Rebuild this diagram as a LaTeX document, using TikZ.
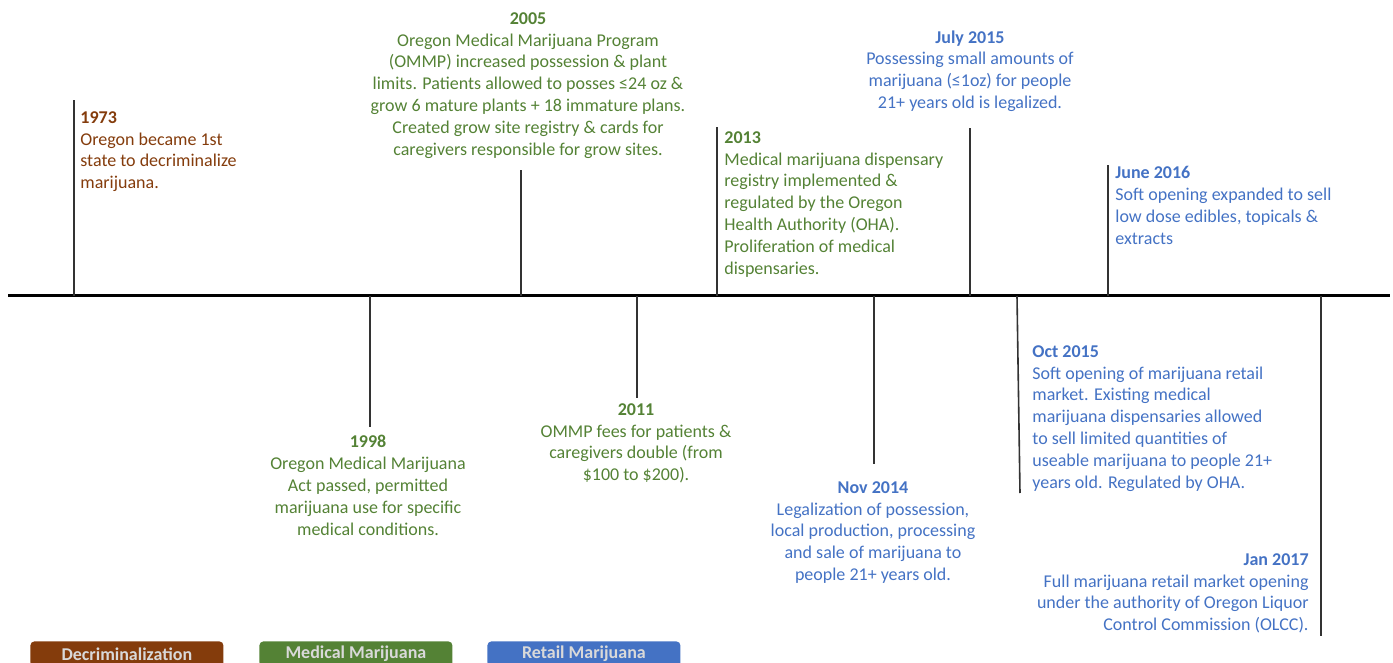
\documentclass[tikz,border=0pt]{standalone}
\usepackage{fontspec}
\setmainfont{Carlito}
\usetikzlibrary{calc}
\definecolor{decrim}{HTML}{843C0C}
\definecolor{medical}{HTML}{548235}
\definecolor{retail}{HTML}{4472C4}
\tikzset{
  evtext/.style={inner sep=0pt, font=\fontsize{9}{10.9}\selectfont},
  tick/.style={line width=0.8pt, color=black!80},
  legbox/.style={rounded corners=2pt, inner sep=0pt, minimum height=12.5pt,
    minimum width=96.5pt, font=\fontsize{9}{10}\selectfont\bfseries, text=white!85!black}
}
\begin{document}
\begin{tikzpicture}[x=0.5pt, y=-0.5pt]
			%%%%% START %%%%%
			\useasboundingbox (0, 0) rectangle (1393, 663);
			
			% axis
			\coordinate (axL) at (8, 296);
			\coordinate (axR) at (1390, 296);
			\draw[line width=1.5pt, color=black] (axL) -- (axR);
			
			% ticks above the axis
			\coordinate (a1973) at (74, 296);   \coordinate (t1973) at (74, 100);
			\coordinate (a2005) at (521, 296);  \coordinate (t2005) at (521, 170);
			\coordinate (a2013) at (717, 296);  \coordinate (t2013) at (717, 127);
			\coordinate (a2015j) at (970, 296); \coordinate (t2015j) at (970, 128);
			\coordinate (a2016) at (1108, 296); \coordinate (t2016) at (1108, 165);
			
			% ticks below the axis
			\coordinate (a1998) at (370, 296);  \coordinate (t1998) at (370, 427);
			\coordinate (a2011) at (637, 296);  \coordinate (t2011) at (637, 398);
			\coordinate (a2014) at (874, 296);  \coordinate (t2014) at (874, 464);
			\coordinate (a2015o) at (1017, 296);\coordinate (t2015o) at (1020, 493);
			\coordinate (a2017) at (1321, 296); \coordinate (t2017) at (1321, 636);
			
			\foreach \y in {1973,2005,2013,2015j,2016,1998,2011,2014,2015o,2017}
				\draw[tick] (a\y) -- (t\y);
			
			% events
			\node[evtext, anchor=north west, align=left, text=decrim] (e1973) at (80, 111)
				{\textbf{1973}\\Oregon became 1st\\state to decriminalize\\marijuana.};
			
			\node[evtext, anchor=north, align=center, text=medical] (e1998) at (368, 435)
				{\textbf{1998}\\Oregon Medical Marijuana\\Act passed, permitted\\marijuana use for specific\\medical conditions.};
			
			\node[evtext, anchor=north, align=center, text=medical] (e2005) at (528, 12)
				{\textbf{2005}\\Oregon Medical Marijuana Program\\(OMMP) increased possession \& plant\\limits. Patients allowed to posses ≤24 oz \&\\grow 6 mature plants + 18 immature plans.\\Created grow site registry \& cards for\\caregivers responsible for grow sites.};
			
			\node[evtext, anchor=north, align=center, text=medical] (e2011) at (636, 403)
				{\textbf{2011}\\OMMP fees for patients \&\\caregivers double (from\\\$100 to \$200).};
			
			\node[evtext, anchor=north west, align=left, text=medical] (e2013) at (724, 131)
				{\textbf{2013}\\Medical marijuana dispensary\\registry implemented \&\\regulated by the Oregon\\Health Authority (OHA).\\Proliferation of medical\\dispensaries.};
			
			\node[evtext, anchor=north, align=center, text=retail] (e2014) at (873, 481)
				{\textbf{Nov 2014}\\Legalization of possession,\\local production, processing\\and sale of marijuana to\\people 21+ years old.};
			
			\node[evtext, anchor=north, align=center, text=retail] (e2015j) at (970, 30)
				{\textbf{July 2015}\\Possessing small amounts of\\marijuana (≤1oz) for people\\21+ years old is legalized.};
			
			\node[evtext, anchor=north west, align=left, text=retail] (e2015o) at (1032, 345)
				{\textbf{Oct 2015}\\Soft opening of marijuana retail\\market. Existing medical\\marijuana dispensaries allowed\\to sell limited quantities of\\useable marijuana to people 21+\\years old. Regulated by OHA.};
			
			\node[evtext, anchor=north west, align=left, text=retail] (e2016) at (1115, 166)
				{\textbf{June 2016}\\Soft opening expanded to sell\\low dose edibles, topicals \&\\extracts};
			
			\node[evtext, anchor=north east, align=right, text=retail] (e2017) at (1309, 553)
				{\textbf{Jan 2017}\\Full marijuana retail market opening\\under the authority of Oregon Liquor\\Control Commission (OLCC).};
			
			% legend
			\node[legbox, fill=decrim, anchor=north west] (lDecrim) at (30, 641) {Decriminalization};
			\node[legbox, fill=medical, anchor=north west] (lMedical) at (259, 641) {Medical Marijuana};
			\node[legbox, fill=retail, anchor=north west] (lRetail) at (487, 641) {Retail Marijuana};
			%%%%% END %%%%%
\end{tikzpicture}
\end{document}
